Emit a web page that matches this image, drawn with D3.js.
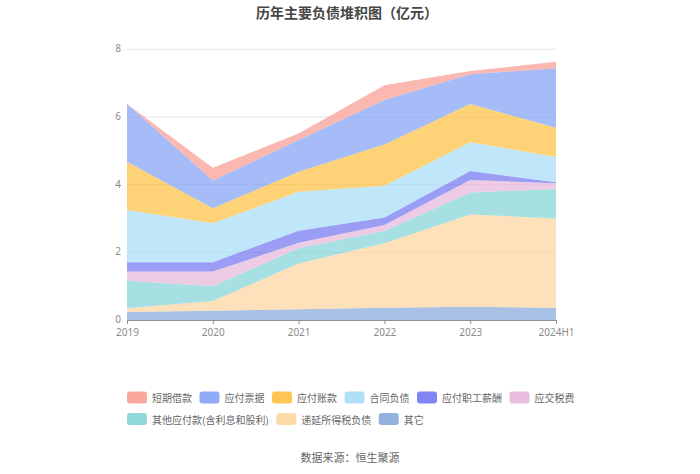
<!DOCTYPE html>
<html>
<head>
<meta charset="utf-8">
<script src="https://cdn.jsdelivr.net/npm/d3@7/dist/d3.min.js"></script>
<style>
  html, body { margin: 0; padding: 0; background: #fff; }
  svg { display: block; font-family: "Noto Sans CJK SC", "Noto Sans", sans-serif; }
</style>
</head>
<body>
<svg id="chart" width="700" height="474"></svg>
<script>
// ---- data ----
const categories = ['2019', '2020', '2021', '2022', '2023', '2024H1'];
const yTicks = [0, 2, 4, 6, 8];
const seriesNames = ['短期借款', '应付票据', '应付账款', '合同负债', '应付职工薪酬', '应交税费', '其他应付款(含利息和股利)', '递延所得税负债', '其它'];
const shortBorrow   = [0.00, 0.38, 0.19, 0.44, 0.10, 0.19];
const notesPayable  = [1.70, 0.82, 0.94, 1.31, 0.88, 1.76];
const accountsPay   = [1.43, 0.44, 0.59, 1.22, 1.13, 0.86];
const contractLiab  = [1.54, 1.15, 1.15, 0.94, 0.85, 0.75];
const staffPay      = [0.28, 0.28, 0.36, 0.22, 0.26, 0.03];
const taxPay        = [0.27, 0.43, 0.16, 0.18, 0.37, 0.17];
const otherPay      = [0.81, 0.44, 0.45, 0.36, 0.65, 0.87];
const deferredTax   = [0.11, 0.29, 1.35, 1.91, 2.73, 2.64];
const others        = [0.24, 0.27, 0.32, 0.36, 0.39, 0.36];
const seriesValues = [shortBorrow, notesPayable, accountsPay, contractLiab, staffPay, taxPay, otherPay, deferredTax, others];
const colors = ['#f8968c', '#7b9cf5', '#fdbc36', '#a2daf7', '#6b6ff0', '#e4b2d8', '#7dd2d4', '#fdd399', '#7fa3d8'];

// ---- setup ----
const svg = d3.select('#chart');
const plotLeft = 127, plotRight = 556, plotTop = 49.3, plotBottom = 320;
const x = d3.scalePoint().domain(categories).range([plotLeft, plotRight]);
const y = d3.scaleLinear().domain([0, 8]).range([plotBottom, plotTop]);

// title
svg.append('text').attr('x', 347).attr('y', 18).attr('text-anchor', 'middle')
  .attr('font-size', 14).attr('font-weight', 'bold').attr('fill', '#464646')
  .text('历年主要负债堆积图（亿元）');

// grid lines
svg.append('g').selectAll('line').data(yTicks.filter(d => d > 0)).join('line')
  .attr('x1', plotLeft).attr('x2', plotRight)
  .attr('y1', d => y(d)).attr('y2', d => y(d))
  .attr('stroke', '#e6e6e6').attr('stroke-width', 1);

// stacked data (bottom = last series)
const rows = categories.map((c, i) => {
  const r = { cat: c };
  seriesNames.forEach((n, k) => r[n] = seriesValues[k][i]);
  return r;
});
const stackKeys = seriesNames.slice().reverse();
const stacked = d3.stack().keys(stackKeys)(rows);
const area = d3.area()
  .x(d => x(d.data.cat))
  .y0(d => y(d[0]))
  .y1(d => y(d[1]));

svg.append('g').selectAll('path').data(stacked).join('path')
  .attr('d', area)
  .attr('fill', d => colors[seriesNames.indexOf(d.key)])
  .attr('fill-opacity', 0.68)
  .attr('stroke', 'none');

// y axis
const yAxis = svg.append('g').attr('transform', `translate(${plotLeft},0)`)
  .call(d3.axisLeft(y).tickValues(yTicks).tickSize(0).tickPadding(6));
yAxis.select('.domain').remove();
yAxis.selectAll('text').attr('fill', '#8a8a8a').attr('font-size', 10)
  .attr('font-family', '"Noto Sans", sans-serif').attr('dy', '0.25em');

// x axis
const xAxis = svg.append('g').attr('transform', `translate(0,${plotBottom})`)
  .call(d3.axisBottom(x).tickSize(4).tickPadding(3).tickSizeOuter(0));
xAxis.select('.domain').attr('stroke', '#8a8f99');
xAxis.selectAll('.tick line').attr('stroke', '#8a8f99');
xAxis.selectAll('text').attr('fill', '#8a8a8a').attr('font-size', 10)
  .attr('font-family', '"Noto Sans", sans-serif').attr('dy', '0.85em');

// legend
const legend = svg.append('g');
let lx = 127, ly = 397.5;
const maxRight = 590;
seriesNames.forEach((n, k) => {
  const g = legend.append('g');
  const t = g.append('text').attr('font-size', 10).attr('fill', '#666')
    .attr('dominant-baseline', 'central').text(n);
  const w = 20 + 5 + t.node().getComputedTextLength();
  if (lx + w > maxRight) { lx = 127; ly += 21.5; }
  g.append('rect').attr('x', lx).attr('y', ly - 6).attr('width', 20).attr('height', 12)
    .attr('rx', 3).attr('fill', colors[k]).attr('fill-opacity', 0.85);
  t.attr('x', lx + 25).attr('y', ly);
  lx += w + 7.5;
});

// source
svg.append('text').attr('x', 350).attr('y', 457).attr('text-anchor', 'middle')
  .attr('dominant-baseline', 'central')
  .attr('font-size', 11).attr('fill', '#666').text('数据来源：恒生聚源');
</script>
</body>
</html>
